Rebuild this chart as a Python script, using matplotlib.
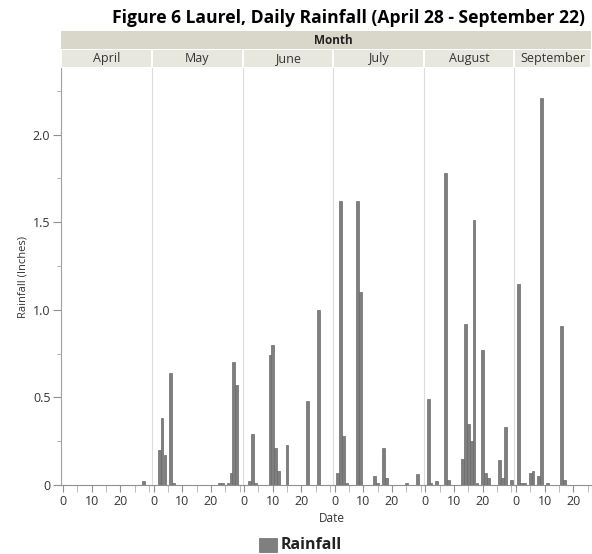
import matplotlib
matplotlib.use('Agg')
import matplotlib.pyplot as plt
from matplotlib.patches import Rectangle
from matplotlib.ticker import FixedLocator, MultipleLocator, FuncFormatter

plt.rcParams['font.family'] = ['Open Sans', 'DejaVu Sans']

months = ['April', 'May', 'June', 'July', 'August', 'September']

april_days = [28]
april_rain = [0.02]
may_days = [2, 3, 4, 6, 7, 23, 24, 26, 27, 28, 29]
may_rain = [0.20, 0.38, 0.17, 0.64, 0.01, 0.01, 0.01, 0.01, 0.07, 0.70, 0.57]
june_days = [2, 3, 4, 9, 10, 11, 12, 15, 22, 26]
june_rain = [0.02, 0.29, 0.01, 0.74, 0.80, 0.21, 0.08, 0.23, 0.48, 1.00]
july_days = [1, 2, 3, 4, 8, 9, 14, 15, 17, 18, 25, 29]
july_rain = [0.07, 1.62, 0.28, 0.01, 1.62, 1.10, 0.05, 0.01, 0.21, 0.04, 0.01, 0.06]
august_days = [1, 2, 4, 7, 8, 13, 14, 15, 16, 17, 18, 20, 21, 22, 26, 27, 28, 30]
august_rain = [0.49, 0.01, 0.02, 1.78, 0.03, 0.15, 0.92, 0.35, 0.25, 1.51,
               0.01, 0.77, 0.07, 0.04, 0.14, 0.04, 0.33, 0.03]
september_days = [1, 2, 3, 5, 6, 8, 9, 11, 16, 17]
september_rain = [1.15, 0.01, 0.01, 0.07, 0.08, 0.05, 2.21, 0.01, 0.91, 0.03]

all_days = [april_days, may_days, june_days, july_days, august_days, september_days]
all_rain = [april_rain, may_rain, june_rain, july_rain, august_rain, september_rain]

W, H = 592, 554
BAR = '#7f7f7f'
TXT = '#333333'


def fx(px):
    return px / W


def fy(py):
    return 1 - py / H


def fmt_y(v, pos):
    if abs(v) < 1e-9:
        return '0'
    return f'{v:.1f}'


fig = plt.figure(figsize=(W / 100, H / 100), dpi=100)
xmax = [31.1] * 5 + [26.2]
gs = fig.add_gridspec(
    1, 6,
    left=fx(61.5), right=fx(591), bottom=fy(485), top=fy(68),
    wspace=0, width_ratios=[m + 0.5 for m in xmax]
)

axes = []
for i, month in enumerate(months):
    ax = fig.add_subplot(gs[0, i])
    axes.append(ax)
    ax.bar(all_days[i], all_rain[i], width=0.95, color=BAR,
           edgecolor='#6a6a6a', linewidth=0.5)
    ax.set_xlim(-0.5, xmax[i])
    ax.set_ylim(0, 2.38)

    ax.xaxis.set_major_locator(FixedLocator([0, 10, 20]))
    ax.xaxis.set_minor_locator(FixedLocator([5, 15, 25, 30]))
    ax.tick_params(axis='x', which='major', direction='out', length=5,
                   color='#909090', labelsize=9, labelcolor=TXT, pad=2)
    ax.tick_params(axis='x', which='minor', direction='out', length=5,
                   color='#b0b0b0')

    for side in ['top', 'right']:
        ax.spines[side].set_visible(False)
    ax.spines['bottom'].set_color('#909090')

    if i == 0:
        ax.spines['left'].set_color('#a0a0a0')
        ax.yaxis.set_major_locator(MultipleLocator(0.5))
        ax.yaxis.set_minor_locator(MultipleLocator(0.25))
        ax.yaxis.set_major_formatter(FuncFormatter(fmt_y))
        ax.tick_params(axis='y', which='major', direction='out', length=6,
                       color='#909090', labelsize=9, labelcolor=TXT, pad=2)
        ax.tick_params(axis='y', which='minor', direction='out', length=3,
                       color='#a0a0a0')
        ax.set_ylabel('Rainfall (Inches)', fontsize=8, color=TXT, labelpad=3)
    else:
        ax.spines['left'].set_color('#dcdcdc')
        ax.tick_params(axis='y', which='both', left=False, labelleft=False)

# header bands
fig.add_artist(Rectangle((fx(61), fy(49)), fx(591) - fx(61), fy(31) - fy(49),
                         transform=fig.transFigure, facecolor='#d9d7ca',
                         edgecolor='none'))
fig.text(fx(333), fy(40), 'Month', ha='center', va='center',
         fontsize=8.5, fontweight='bold', color='#222222')
for ax, month in zip(axes, months):
    pos = ax.get_position()
    x0 = pos.x0 + fx(1)
    w = pos.width - fx(2)
    fig.add_artist(Rectangle((x0, fy(67)), w, fy(50) - fy(67),
                             transform=fig.transFigure, facecolor='#e8e7de',
                             edgecolor='none'))
    fig.text(pos.x0 + pos.width / 2, fy(58.5), month, ha='center',
             va='center', fontsize=9, color=TXT)

fig.text(fx(349), fy(18), 'Figure 6 Laurel, Daily Rainfall (April 28 - September 22)',
         ha='center', va='center', fontsize=12.6, fontweight='bold', color='black')
fig.text(fx(332), fy(518), 'Date', ha='center', va='center', fontsize=8.5, color=TXT)

# legend
fig.add_artist(Rectangle((fx(259), fy(552)), fx(18), fy(538) - fy(552),
                         transform=fig.transFigure, facecolor=BAR,
                         edgecolor='#6a6a6a', linewidth=0.5))
fig.text(fx(281), fy(545), 'Rainfall', ha='left', va='center',
         fontsize=11.5, fontweight='bold', color='#222222')

fig.savefig('out.png', dpi=100)
